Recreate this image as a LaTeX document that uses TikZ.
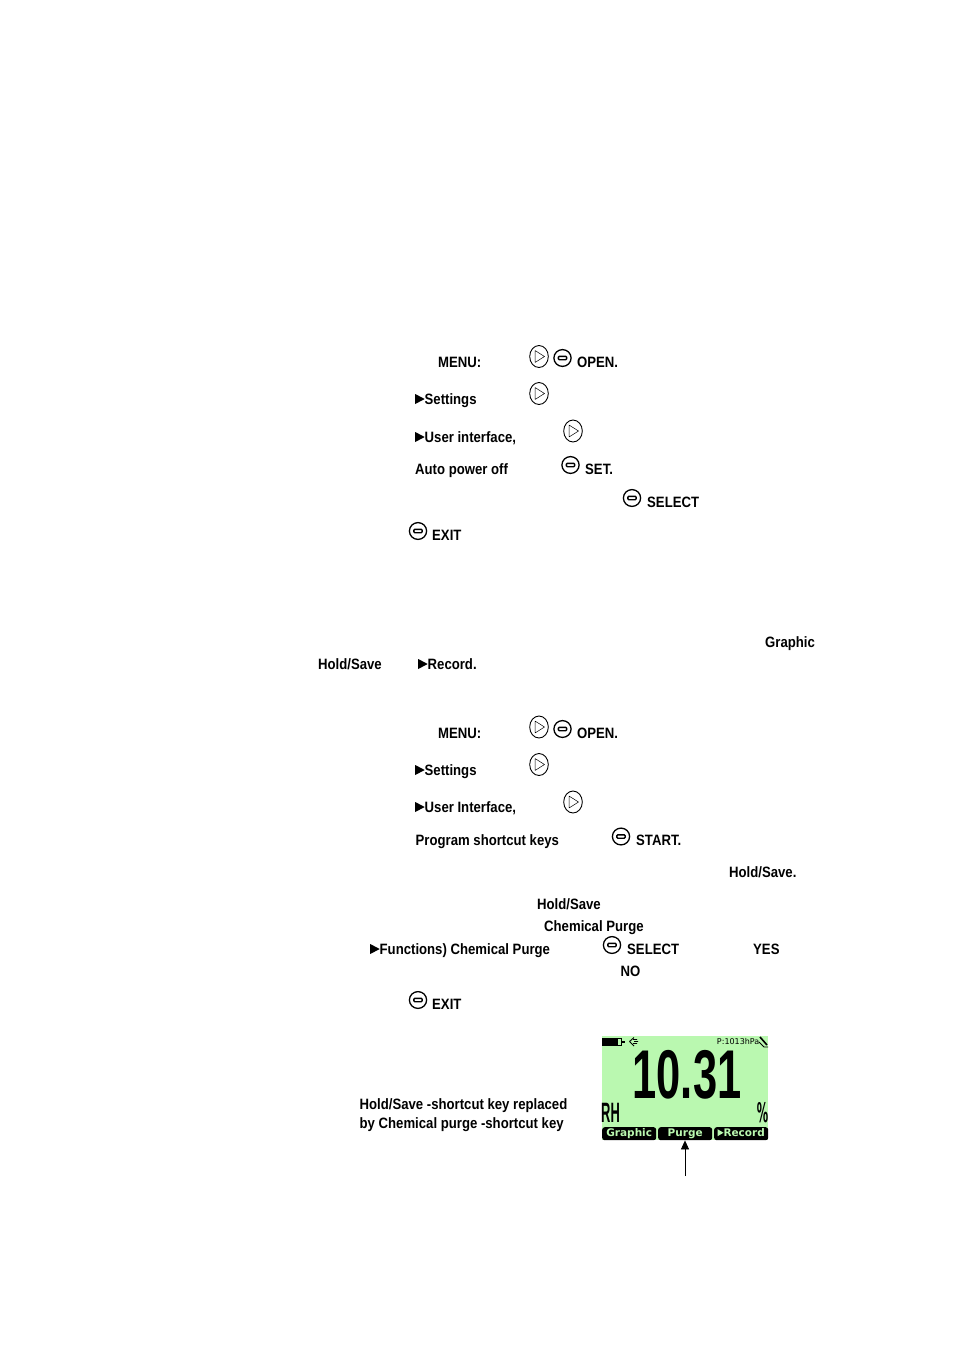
\documentclass[tikz,border=0pt]{standalone}
\usepackage{fontspec}
\setmainfont[FakeStretch=0.877]{Liberation Sans Bold}
\newfontfamily\lcdfont{DejaVu Sans Bold}
\newfontfamily\smallfont{DejaVu Sans}
\newfontfamily\bigfont{Liberation Sans Bold}
\definecolor{lcd}{HTML}{BAF8B0}
\usetikzlibrary{arrows.meta}
\tikzset{
  x=1pt,y=-1pt,
  lbl/.style={anchor=base west,inner sep=0pt,yshift=1pt,font=\fontsize{15}{16}\selectfont,text=black},
  softkey/.style={fill=black,rounded corners=2.5pt,draw=none},
  softtxt/.style={inner sep=0pt,text=lcd,text height=8pt,text depth=2pt,font=\lcdfont\fontsize{10.5}{11}\selectfont},
  pics/rightkey/.style={code={
    \draw[line width=.9pt] (0,0) ellipse [x radius=9.3,y radius=11];
    \draw[line width=.5pt,line join=round] (-4,-6) -- (5.5,0) -- (-4,6) -- cycle;
  }},
  pics/minuskey/.style={code={
    \draw[line width=1.3pt] (0,0) ellipse [x radius=8.6,y radius=8.4];
    \draw[line width=1.4pt,rounded corners=1pt] (-4.2,-1.7) rectangle (4.2,1.7);
  }},
}
\newcommand{\tri}{\tikz[baseline=0pt,x=1pt,y=1pt]\fill (0,0) -- (9.5,5) -- (0,10) -- cycle;}
\begin{document}
\begin{tikzpicture}
\useasboundingbox (0,0) rectangle (954,1350);
\fill[white] (0,0) rectangle (954,1350);

% first block
\node[lbl] (t1) at (438,368) {MENU:};
\pic at (539,356.5) {rightkey};
\pic at (562.5,358) {minuskey};
\node[lbl] (t2) at (577,368) {OPEN.};
\node[lbl] (t3) at (415,405) {\tri Settings};
\pic at (539,393.5) {rightkey};
\node[lbl] (t4) at (415,443) {\tri User interface,};
\pic at (573,431) {rightkey};
\node[lbl] (t5) at (415,475) {Auto power off};
\pic at (570.5,465) {minuskey};
\node[lbl] (t6) at (585,475) {SET.};
\pic at (632,498) {minuskey};
\node[lbl] (t7) at (647,508) {SELECT};
\pic at (418,531) {minuskey};
\node[lbl] (t8) at (432,541) {EXIT};

% intro of second block
\node[lbl] (t9) at (765,648) {Graphic};
\node[lbl] (t10) at (318,670) {Hold/Save};
\node[lbl] (t11) at (418,670) {\tri Record.};

% second block
\node[lbl] (t12) at (438,739) {MENU:};
\pic at (539,727) {rightkey};
\pic at (562.5,729) {minuskey};
\node[lbl] (t13) at (577,739) {OPEN.};
\node[lbl] (t14) at (415,776) {\tri Settings};
\pic at (539,764.5) {rightkey};
\node[lbl] (t15) at (415,813) {\tri User Interface,};
\pic at (573,802) {rightkey};
\node[lbl] (t16) at (415.5,846) {Program shortcut keys};
\pic at (621,836.5) {minuskey};
\node[lbl] (t17) at (636,846) {START.};
\node[lbl] (t18) at (729,878) {Hold/Save.};
\node[lbl] (t19) at (537,910) {Hold/Save};
\node[lbl] (t20) at (544,932) {Chemical Purge};
\node[lbl] (t21) at (370,955) {\tri Functions) Chemical Purge};
\pic at (612,945) {minuskey};
\node[lbl] (t22) at (627,955) {SELECT};
\node[lbl] (t23) at (753,955) {YES};
\node[lbl] (t24) at (620.5,977) {NO};
\pic at (418,1000) {minuskey};
\node[lbl] (t25) at (432,1010) {EXIT};

\node[lbl] (t26) at (359.5,1110) {Hold/Save -shortcut key replaced};
\node[lbl] (t27) at (359.5,1129) {by Chemical purge -shortcut key};

% LCD screen
\node[fill=lcd,minimum width=166pt,minimum height=104pt,inner sep=0pt,anchor=north west] (screen) at (602,1036) {};
% status icons
\fill (602,1038) rectangle (617,1045.5);
\draw[line width=.8pt] (617,1038) rectangle (621,1045.5);
\fill (622,1040.5) rectangle (625,1042.5);
\draw[line width=.9pt] (629.5,1041.5) -- (634,1037.5) (629.5,1041.5) -- (634,1046) (634,1041.5) -- (638,1041.5) (633,1039.5) -- (637,1039.5) (633,1043.5) -- (637,1043.5);
\node[anchor=base east,inner sep=0pt,font=\smallfont\fontsize{8}{8}\selectfont] (press) at (759.5,1044.5) {P:1013hPa};
\draw[line width=1.6pt] (760,1037) -- (767,1045);
\draw[line width=.8pt] (759,1042) -- (764,1047) -- (768,1047);
% reading
\node[anchor=base,inner sep=0pt,font=\bigfont\fontsize{69}{69}\selectfont] (val) at (687,1098.5) {\scalebox{.63}[1]{10.31}};
\node[anchor=base west,inner sep=0pt,font=\bigfont\fontsize{28}{28}\selectfont] (rh) at (601,1122) {\scalebox{.46}[1]{RH}};
\node[anchor=base east,inner sep=0pt,font=\lcdfont\fontsize{27}{27}\selectfont] (pct) at (768.5,1122) {\scalebox{.42}[1]{\%}};
% soft keys
\node[softkey,anchor=north west,minimum width=54pt,minimum height=13pt,inner sep=0pt] (k1) at (602,1127) {};
\node[softkey,anchor=north west,minimum width=54pt,minimum height=13pt,inner sep=0pt] (k2) at (658,1127) {};
\node[softkey,anchor=north west,minimum width=54pt,minimum height=13pt,inner sep=0pt] (k3) at (714,1127) {};
\node[softtxt] (g) at (k1) {Graphic};
\node[softtxt] (p) at (k2) {Purge};
\node[softtxt] (r) at (k3) {\tikz[baseline=0pt,x=1pt,y=1pt]\fill[lcd] (0,0.5) -- (6,4) -- (0,7.5) -- cycle;Record};
% arrow
\coordinate (afoot) at (685,1176);
\draw[line width=.7pt,-{Triangle[length=9pt,width=8pt]}] (afoot) -- (k2.south -| afoot);
\end{tikzpicture}
\end{document}
